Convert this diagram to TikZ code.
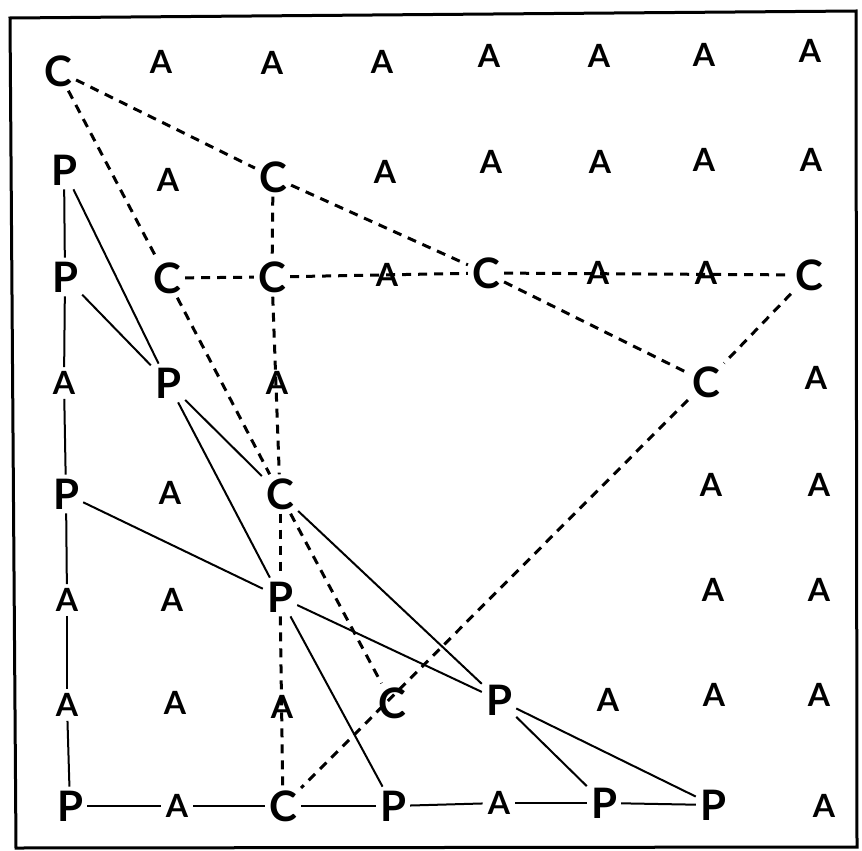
\documentclass[tikz,border=0pt]{standalone}
\usepackage{fontspec}
\newfontfamily\lato{Lato}
\begin{document}
\begin{tikzpicture}[x=1pt,y=-1pt,
  lt/.style={rectangle,inner sep=4pt,font=\lato\bfseries\fontsize{42}{42}\selectfont},
  la/.style={rectangle,inner xsep=5pt,inner ysep=4pt,font=\lato\bfseries\fontsize{32}{32}\selectfont},
  sol/.style={line width=2pt},
  dsh/.style={line width=3pt,dash pattern=on 9pt off 7pt},
  frm/.style={line width=3pt}]
\useasboundingbox (0,0) rectangle (862,851);
\draw[frm] (10,18) -- (856,11) -- (857,847) -- (16,848) -- cycle;
% row 1
\node[lt] (c11) at (58,71) {C};
\node[la] (a12) at (161,62) {A};
\node[la] (a13) at (272,63) {A};
\node[la] (a14) at (382,62) {A};
\node[la] (a15) at (489,56) {A};
\node[la] (a16) at (599,56) {A};
\node[la] (a17) at (704,55) {A};
\node[la] (a18) at (810,51) {A};
% row 2
\node[lt] (p21) at (64,170) {P};
\node[la] (a22) at (168,180) {A};
\node[lt] (c23) at (273,177) {C};
\node[la] (a24) at (385,172) {A};
\node[la] (a25) at (491,162) {A};
\node[la] (a26) at (600,162) {A};
\node[la] (a27) at (704,160) {A};
\node[la] (a28) at (811,160) {A};
% row 3
\node[lt] (p31) at (65,277) {P};
\node[lt] (c32) at (167,278) {C};
\node[lt] (c33) at (272,277) {C};
\node[la] (a34) at (387,275) {A};
\node[lt] (c35) at (486,273) {C};
\node[la] (a36) at (598,273) {A};
\node[la] (a37) at (706,273) {A};
\node[lt] (c38) at (809,275) {C};
% row 4
\node[la] (a41) at (64,383) {A};
\node[lt] (p42) at (168,383) {P};
\node[la] (a43) at (277,383) {A};
\node[lt] (c47) at (706,382) {C};
\node[la] (a48) at (816,378) {A};
% row 5
\node[lt] (p51) at (66,494) {P};
\node[la] (a52) at (170,493) {A};
\node[lt] (c53) at (280,494) {C};
\node[la] (a57) at (711,485) {A};
\node[la] (a58) at (819,485) {A};
% row 6
\node[la] (a61) at (67,600) {A};
\node[la] (a62) at (172,600) {A};
\node[lt] (p63) at (280,597) {P};
\node[la] (a67) at (713,590) {A};
\node[la] (a68) at (819,590) {A};
% row 7
\node[la] (a71) at (67,705) {A};
\node[la] (a72) at (175,703) {A};
\node[la] (a73) at (282,707) {A};
\node[lt] (c74) at (392,703) {C};
\node[lt] (p75) at (499,700) {P};
\node[la] (a76) at (608,700) {A};
\node[la] (a77) at (714,695) {A};
\node[la] (a78) at (819,695) {A};
% row 8
\node[lt] (p81) at (70,806) {P};
\node[la] (a82) at (177,806) {A};
\node[lt] (c83) at (283,806) {C};
\node[lt] (p84) at (393,806) {P};
\node[la] (a85) at (499,803) {A};
\node[lt] (p86) at (604,803) {P};
\node[lt] (p87) at (713,805) {P};
\node[la] (a88) at (824,806) {A};
% dashed connectors
\draw[dsh] (c11) -- (c23);
\draw[dsh] (c11) -- (c32);
\draw[dsh] (c23) -- (c33);
\draw[dsh] (c33) -- (c53);
\draw[dsh] (c53) -- (p63);
\draw[dsh] (p63) -- (c83);
\draw[dsh] (c23) -- (c35);
\draw[dsh] (c35) -- (c47);
\draw[dsh] (c32) -- (c33);
\draw[dsh] (c33) -- (c35);
\draw[dsh] (c35) -- (c38);
\draw[dsh] (c38) -- (c47);
\draw[dsh] (c47) -- (c83);
\draw[dsh] (c32) -- (c53);
\draw[dsh] (c53) -- (c74);
% solid connectors
\draw[sol] (p21) -- (p31);
\draw[sol] (p31) -- (a41);
\draw[sol] (a41) -- (p51);
\draw[sol] (p51) -- (a61);
\draw[sol] (a61) -- (a71);
\draw[sol] (a71) -- (p81);
\draw[sol] (p81) -- (a82);
\draw[sol] (a82) -- (c83);
\draw[sol] (c83) -- (p84);
\draw[sol] (p84) -- (a85);
\draw[sol] (a85) -- (p86);
\draw[sol] (p86) -- (p87);
\draw[sol] (p21) -- (p42);
\draw[sol] (p31) -- (p42);
\draw[sol] (p42) -- (c53);
\draw[sol] (p42) -- (p63);
\draw[sol] (p51) -- (p63);
\draw[sol] (c53) -- (p75);
\draw[sol] (p63) -- (p75);
\draw[sol] (p63) -- (p84);
\draw[sol] (p75) -- (p86);
\draw[sol] (p75) -- (p87);
\end{tikzpicture}
\end{document}
